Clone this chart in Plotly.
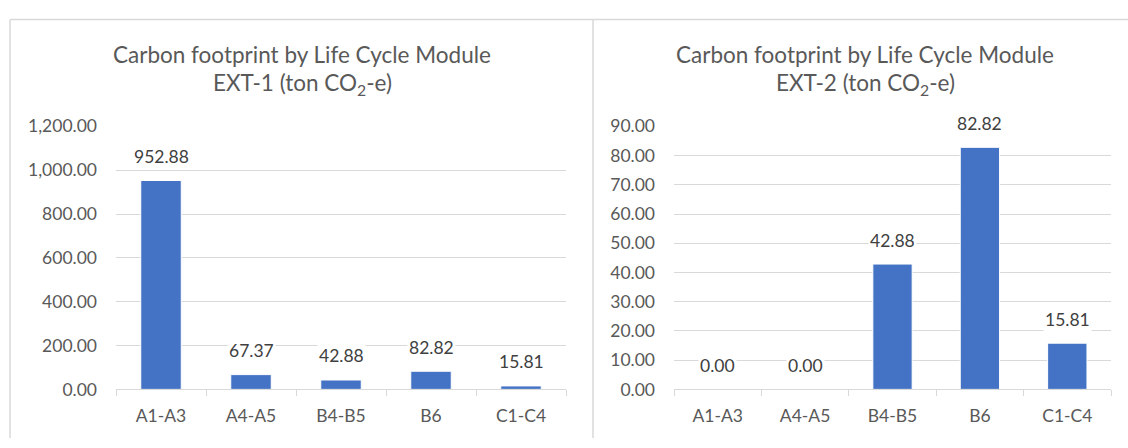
import plotly.graph_objects as go

# Life cycle modules and carbon footprint per external wall option (ton CO2-e)
modules = ["A1-A3", "A4-A5", "B4-B5", "B6", "C1-C4"]
ext1_values = [952.88, 67.37, 42.88, 82.82, 15.81]
ext2_values = [0.00, 0.00, 42.88, 82.82, 15.81]

ext1_ticks = [0, 200, 400, 600, 800, 1000, 1200]
ext2_ticks = [0, 10, 20, 30, 40, 50, 60, 70, 80, 90]

title_line1 = "Carbon footprint by Life Cycle Module"
ext1_title = "EXT-1 (ton CO<sub>2</sub>-e)"
ext2_title = "EXT-2 (ton CO<sub>2</sub>-e)"

W, H = 1128, 448
FONT = "Lato"
BAR = "#4472C4"
GRID = "#D9D9D9"
TXT = "#595959"
LBL = "#404040"
TICK_SIZE = 17.5
TITLE_SIZE = 22.5


def px_x(x):
    return x / W


def px_y(y):
    return 1 - y / H


fig = go.Figure()
fig.add_trace(go.Bar(x=modules, y=ext1_values, xaxis="x", yaxis="y",
                     marker=dict(color=BAR, line=dict(color="white", width=1)),
                     hoverinfo="x+y"))
fig.add_trace(go.Bar(x=modules, y=ext2_values, xaxis="x2", yaxis="y2",
                     marker=dict(color=BAR, line=dict(color="white", width=1)),
                     hoverinfo="x+y"))

xaxis_common = dict(
    type="category", showgrid=False, showline=True, linecolor=GRID, linewidth=1,
    ticks="outside", tickson="boundaries", ticklen=6, tickcolor=GRID,
    tickfont=dict(family=FONT, size=TICK_SIZE, color=TXT), ticklabelstandoff=11,
    zeroline=False, fixedrange=True,
)
yaxis_common = dict(
    showgrid=True, gridcolor=GRID, gridwidth=1, showline=False, zeroline=False,
    tickformat=",.2f", tickfont=dict(family=FONT, size=TICK_SIZE, color=TXT),
    ticks="", ticklabelstandoff=18, fixedrange=True,
)

y_dom = [px_y(397), px_y(121)]
fig.update_layout(
    width=W, height=H,
    margin=dict(l=0, r=0, t=0, b=0),
    paper_bgcolor="white", plot_bgcolor="white",
    showlegend=False, bargap=0.55,
    xaxis=dict(domain=[px_x(116), px_x(566)], anchor="y", **xaxis_common),
    yaxis=dict(domain=y_dom, anchor="x", range=[0, 1200], tickvals=ext1_ticks, **yaxis_common),
    xaxis2=dict(domain=[px_x(674), px_x(1111)], anchor="y2", **xaxis_common),
    yaxis2=dict(domain=y_dom, anchor="x2", range=[0, 90], tickvals=ext2_ticks, **yaxis_common),
)

annotations = []
# value labels above each bar, on a white box that breaks the gridlines
for xref, yref, vals in (("x", "y", ext1_values), ("x2", "y2", ext2_values)):
    for m, v in zip(modules, vals):
        annotations.append(dict(
            x=m, y=v, xref=xref, yref=yref, text=f"{v:,.2f}", showarrow=False,
            xanchor="center", yanchor="middle", yshift=24, bgcolor="white", borderpad=1,
            font=dict(family=FONT, size=TICK_SIZE, color=LBL),
        ))

# two-line chart titles, centred over each panel
for cx, sub in ((302, ext1_title), (865, ext2_title)):
    annotations.append(dict(x=px_x(cx), y=px_y(46), xref="paper", yref="paper",
                            text=title_line1, showarrow=False,
                            xanchor="center", yanchor="middle",
                            font=dict(family=FONT, size=TITLE_SIZE, color=TXT)))
    annotations.append(dict(x=px_x(cx), y=px_y(77), xref="paper", yref="paper",
                            text=sub, showarrow=False,
                            xanchor="center", yanchor="middle",
                            font=dict(family=FONT, size=TITLE_SIZE, color=TXT)))
fig.update_layout(annotations=annotations)

# chart frame borders
line_style = dict(color=GRID, width=1.5)
fig.update_layout(shapes=[
    dict(type="line", xref="paper", yref="paper", x0=px_x(10), x1=1, y0=px_y(9), y1=px_y(9), line=line_style),
    dict(type="line", xref="paper", yref="paper", x0=px_x(10), x1=px_x(10), y0=0, y1=px_y(9), line=line_style),
    dict(type="line", xref="paper", yref="paper", x0=px_x(593), x1=px_x(593), y0=0, y1=px_y(9), line=line_style),
])

fig.write_html("out.html")
